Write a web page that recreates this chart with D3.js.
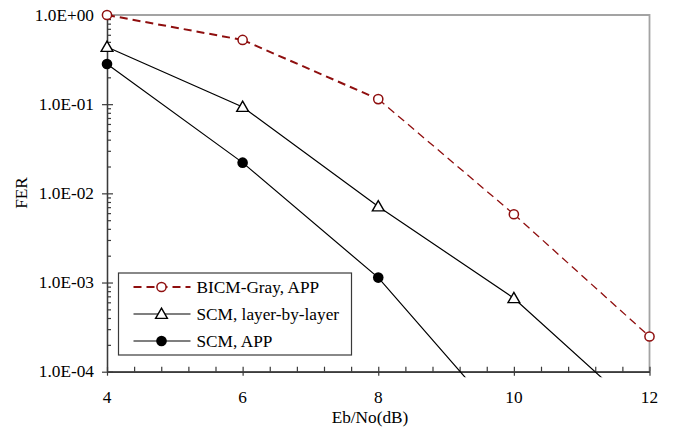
<!DOCTYPE html>
<html>
<head>
<meta charset="utf-8">
<script src="https://cdn.jsdelivr.net/npm/d3@7"></script>
<style>
  body { margin: 0; background: #fff; }
  text { font-family: "Liberation Serif", "Times New Roman", serif; }
</style>
</head>
<body>
<div id="chart"></div>
<script>
// data
const ebno = [4, 6, 8, 10, 12];
const bicmGray = [1.0, 0.525, 0.114, 0.00583, 2.48e-4];
const scmLayer = [0.438, 0.093, 0.00713, 6.67e-4, 2.8e-5];
const scmApp = [0.282, 0.0221, 0.001135, 2.04e-5];

const xTicks = [4, 6, 8, 10, 12];
const yTicks = [1, 1e-1, 1e-2, 1e-3, 1e-4];
const yTickLabels = ["1.0E+00", "1.0E-01", "1.0E-02", "1.0E-03", "1.0E-04"];
const seriesNames = ["BICM-Gray, APP", "SCM, layer-by-layer", "SCM, APP"];

let w = 676, h = 432;
let margin = {top: 15, right: 26, bottom: 60, left: 107};
const stretch = 1.08; // glyphs in the picture are a bit wider than the font
const fs = "16px";
const red = "#8f0f0f";

const svg = d3.select("#chart")
    .append("svg")
    .attr("width", w)
    .attr("height", h);

let x = d3.scaleLinear()
    .domain([4, 12])
    .range([margin.left, w - margin.right - 0.5]);
let y = d3.scaleLog()
    .domain([1e-4, 1])
    .range([h - margin.bottom - 0.3, margin.top]);

// clip a little below the plot, like the original
svg.append("clipPath").attr("id", "clip")
    .append("rect")
    .attr("x", margin.left - 10).attr("y", 5)
    .attr("width", w - margin.left).attr("height", y(1e-4) + 5.5 - 5);

// top and right frame
svg.append("path")
    .attr("d", `M${x(4)},${y(1)}H${x(12)}V${y(1e-4)}`)
    .style("fill", "none").style("stroke", "#a3a3a3").style("stroke-width", 1.8);

// y axis: major ticks crossing, minor log ticks inside
let minorY = [];
[1e-4, 1e-3, 1e-2, 1e-1].forEach(p => { for (let k = 2; k < 10; k++) minorY.push(p * k); });

svg.append("g").attr("transform", `translate(${x(4)},0)`)
    .call(d3.axisLeft(y).tickValues(yTicks).tickSizeInner(5).tickSizeOuter(0).tickFormat(""));
svg.append("g").attr("transform", `translate(${x(4)},0)`)
    .call(d3.axisRight(y).tickValues(yTicks).tickSizeInner(6).tickSizeOuter(0).tickFormat(""));
svg.append("g").attr("transform", `translate(${x(4)},0)`)
    .call(d3.axisRight(y).tickValues(minorY).tickSizeInner(4).tickSizeOuter(0).tickFormat(""));

// x axis
let minorX = d3.range(4.4, 12, 0.4).filter(v => Math.abs(v - Math.round(v / 2) * 2) > 0.01);
svg.append("g").attr("transform", `translate(0,${y(1e-4)})`)
    .call(d3.axisBottom(x).tickValues(xTicks).tickSizeInner(4).tickSizeOuter(0).tickFormat(""));
svg.append("g").attr("transform", `translate(0,${y(1e-4)})`)
    .call(d3.axisTop(x).tickValues(xTicks).tickSizeInner(5).tickSizeOuter(0).tickFormat(""));
svg.append("g").attr("transform", `translate(0,${y(1e-4)})`)
    .call(d3.axisTop(x).tickValues(minorX).tickSizeInner(5).tickSizeOuter(0).tickFormat(""));

svg.selectAll(".domain, .tick line").style("stroke", "#3a3a3a").style("stroke-width", 1.2);

// tick labels
svg.selectAll(".ylab")
    .data(yTicks)
    .join("text")
    .attr("class", "ylab")
    .attr("transform", d => `translate(${x(4) - 13},${y(d) + 5.5}) scale(${stretch},1)`)
    .attr("text-anchor", "end")
    .style("font-size", fs)
    .text((d, i) => yTickLabels[i]);

svg.selectAll(".xlab")
    .data(xTicks)
    .join("text")
    .attr("class", "xlab")
    .attr("transform", d => `translate(${x(d)},${y(1e-4) + 31.5}) scale(${stretch},1)`)
    .attr("text-anchor", "middle")
    .style("font-size", fs)
    .text(d => d);

svg.append("text")
    .attr("transform", `translate(370,${y(1e-4) + 51.5}) scale(${stretch},1)`)
    .attr("text-anchor", "middle")
    .style("font-size", fs)
    .text("Eb/No(dB)");

svg.append("text")
    .attr("transform", `translate(27,193) rotate(-90) scale(${stretch},1)`)
    .attr("text-anchor", "middle")
    .style("font-size", fs)
    .text("FER");

// lines
const plot = svg.append("g").attr("clip-path", "url(#clip)");
const toPts = vals => vals.map((v, i) => [x(ebno[i]), y(v)]);

// BICM dashed, drawn per segment (later segments are thinner in the picture)
d3.pairs(toPts(bicmGray)).forEach((seg, i) => {
    plot.append("path")
        .attr("d", d3.line()(seg))
        .style("fill", "none")
        .style("stroke", red)
        .style("stroke-width", i < 2 ? 2 : 1.3)
        .style("stroke-dasharray", "8,5");
});
[scmLayer, scmApp].forEach(vals => {
    plot.append("path")
        .attr("d", d3.line()(toPts(vals)))
        .style("fill", "none")
        .style("stroke", "#000")
        .style("stroke-width", 1.2);
});

// markers (only those inside the plot)
const inside = vals => vals.map((v, i) => [ebno[i], v]).filter(d => d[1] >= 1e-4);
const tri = d3.symbol().type(d3.symbolTriangle).size(60);

svg.selectAll(".mk-bicm").data(inside(bicmGray)).join("circle")
    .attr("cx", d => x(d[0])).attr("cy", d => y(d[1])).attr("r", 4.6)
    .style("fill", "#fff").style("stroke", red).style("stroke-width", 1.5);
svg.selectAll(".mk-lbl").data(inside(scmLayer)).join("path")
    .attr("transform", d => `translate(${x(d[0])},${y(d[1]) + 1})`)
    .attr("d", tri)
    .style("fill", "#fff").style("stroke", "#000").style("stroke-width", 1.4);
svg.selectAll(".mk-app").data(inside(scmApp)).join("circle")
    .attr("cx", d => x(d[0])).attr("cy", d => y(d[1])).attr("r", 5.3)
    .style("fill", "#000");

// legend
let legend = svg.append("g").attr("transform", "translate(118.5,273)");
legend.append("rect")
    .attr("width", 233).attr("height", 82)
    .style("fill", "#fff").style("stroke", "#3a3a3a").style("stroke-width", 1.2);

seriesNames.forEach((name, i) => {
    let g = legend.append("g").attr("transform", `translate(0,${14 + i * 27})`);
    g.append("line")
        .attr("x1", 15).attr("x2", 72).attr("y1", 0).attr("y2", 0)
        .style("stroke", i == 0 ? red : "#000")
        .style("stroke-width", i == 0 ? 2 : 1.2)
        .style("stroke-dasharray", i == 0 ? "8,5" : null);
    if (i == 0) {
        g.append("circle").attr("cx", 43).attr("cy", 0).attr("r", 4.6)
            .style("fill", "#fff").style("stroke", red).style("stroke-width", 1.5);
    } else if (i == 1) {
        g.append("path").attr("transform", "translate(43,1)").attr("d", tri)
            .style("fill", "#fff").style("stroke", "#000").style("stroke-width", 1.4);
    } else {
        g.append("circle").attr("cx", 43).attr("cy", 0).attr("r", 5.3).style("fill", "#000");
    }
    g.append("text")
        .attr("transform", `translate(78,5.5) scale(${stretch},1)`)
        .style("font-size", fs)
        .text(name);
});
</script>
</body>
</html>
